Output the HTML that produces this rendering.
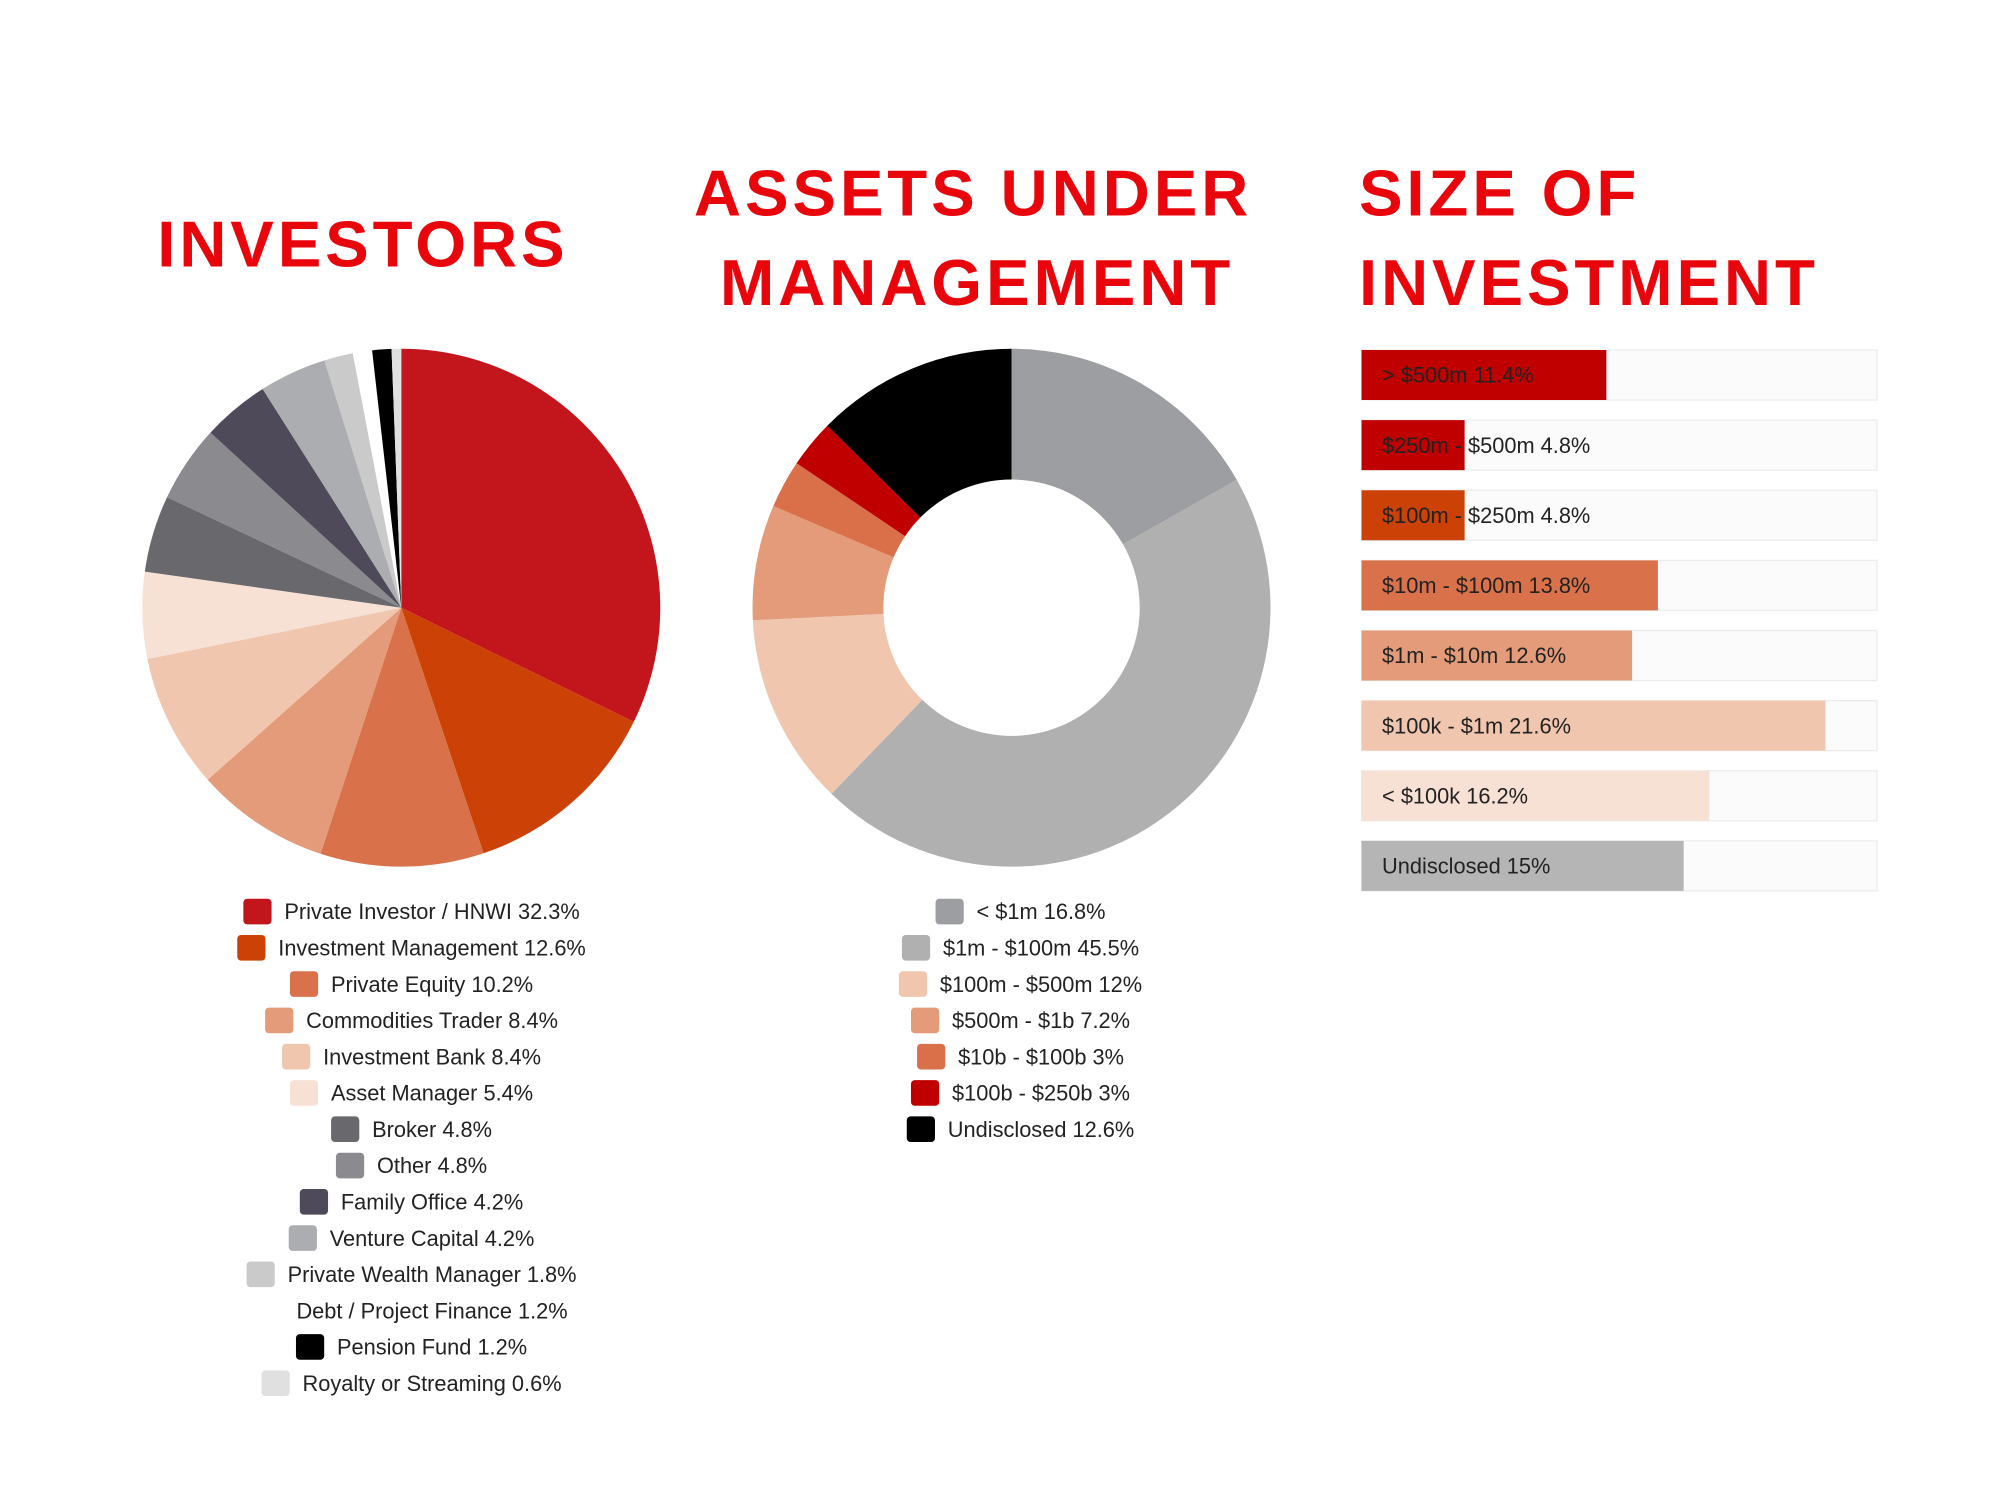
<!DOCTYPE html>
<html><head><meta charset="utf-8"><style>
html,body{margin:0;padding:0;background:#fff}
svg{display:block}
text{font-family:"Liberation Sans",sans-serif}
.t{fill:#e8060c;font-weight:bold;font-size:51px;letter-spacing:3px}
.lg{font-size:17px;fill:#222}
</style></head><body>
<svg id="chart" width="2000" height="1500" viewBox="0 0 1560 1170" preserveAspectRatio="none" xmlns="http://www.w3.org/2000/svg">
<rect width="1560" height="1170" fill="#fff"/>
<text class="t" x="283" y="208" text-anchor="middle">INVESTORS</text>
<text class="t" x="759" y="168" text-anchor="middle">ASSETS UNDER</text>
<text class="t" x="762" y="238" text-anchor="middle">MANAGEMENT</text>
<text class="t" x="1060" y="168">SIZE OF</text>
<text class="t" x="1060" y="238">INVESTMENT</text>
<g id="pie1"></g>
<g id="pie2"></g>
<g id="leg1"></g>
<g id="leg2"></g>
<g id="bars"></g>
</svg>
<script>
const invLabels=["Private Investor / HNWI","Investment Management","Private Equity","Commodities Trader","Investment Bank","Asset Manager","Broker","Other","Family Office","Venture Capital","Private Wealth Manager","Debt / Project Finance","Pension Fund","Royalty or Streaming"];
const invValues=[32.3,12.6,10.2,8.4,8.4,5.4,4.8,4.8,4.2,4.2,1.8,1.2,1.2,0.6];
const invColors=["#c3161c","#cc4105","#d9714a","#e39b79","#f0c6ae","#f7e1d4","#68686d","#8b8b8f","#4f4a5a","#acadb0","#cacaca","#ffffff","#000000","#e0e0e0"];
const aumLabels=["< $1m","$1m - $100m","$100m - $500m","$500m - $1b","$10b - $100b","$100b - $250b","Undisclosed"];
const aumValues=[16.8,45.5,12,7.2,3,3,12.6];
const aumColors=["#9d9ea2","#b0b0b0","#f0c6ae","#e39b79","#d9704a","#c00000","#000000"];
const sizeLabels=["> $500m","$250m - $500m","$100m - $250m","$10m - $100m","$1m - $10m","$100k - $1m","< $100k","Undisclosed"];
const sizeValues=[11.4,4.8,4.8,13.8,12.6,21.6,16.2,15];
const sizeColors=["#c00000","#c00000","#cc4105","#d9714a","#e39b79","#f0c6ae","#f7e1d4","#b5b5b5"];
const NS="http://www.w3.org/2000/svg";
function mk(tag,attrs,parent){const e=document.createElementNS(NS,tag);for(const k in attrs)e.setAttribute(k,attrs[k]);parent.appendChild(e);return e;}
function pt(cx,cy,r,a){return [cx+r*Math.sin(a),cy-r*Math.cos(a)];}
function drawPie(g,vals,cols,labels,cx,cy,R,r0,prefix){
  const tot=vals.reduce((a,b)=>a+b,0);let a=0;
  vals.forEach((v,i)=>{
    const a1=a+v/tot*2*Math.PI;const large=(a1-a)>Math.PI?1:0;
    const p0=pt(cx,cy,R,a),p1=pt(cx,cy,R,a1);let d;
    if(r0>0){const q0=pt(cx,cy,r0,a1),q1=pt(cx,cy,r0,a);
      d=`M${p0[0]},${p0[1]}A${R},${R} 0 ${large} 1 ${p1[0]},${p1[1]}L${q0[0]},${q0[1]}A${r0},${r0} 0 ${large} 0 ${q1[0]},${q1[1]}Z`;}
    else d=`M${cx},${cy}L${p0[0]},${p0[1]}A${R},${R} 0 ${large} 1 ${p1[0]},${p1[1]}Z`;
    const p=mk("path",{d:d,fill:cols[i]},g);
    
    
    a=a1;});
}
function drawLegend(g,vals,cols,labels,cx,y0,dy,prefix){
  labels.forEach((l,i)=>{
    const y=y0+i*dy;
    const t=mk("text",{x:cx,y:y+6,"text-anchor":"middle",class:"lg"},g);
    t.textContent=l+" "+vals[i]+"%";
    
    
    const w=t.getComputedTextLength();
    const s=mk("rect",{x:cx-w/2-32,y:y-10,width:22,height:20,rx:3,fill:cols[i]},g);
    
    
  });
}
drawPie(document.getElementById("pie1"),invValues,invColors,invLabels,313,474,202,0,"investors");
drawPie(document.getElementById("pie2"),aumValues,aumColors,aumLabels,789,474,202,100,"aum");
drawLegend(document.getElementById("leg1"),invValues,invColors,invLabels,337,711,28.3,"investors");
drawLegend(document.getElementById("leg2"),aumValues,aumColors,aumLabels,812,711,28.3,"aum");
const bg=document.getElementById("bars");
const x0=1062,trackW=402,maxV=24,rowY0=273,rowDy=54.7,rowH=39;
const xs=v=>v/maxV*trackW;
sizeLabels.forEach((l,i)=>{
  const y=rowY0+i*rowDy;
  const tr=mk("rect",{x:x0,y:y,width:trackW,height:rowH,fill:"#fbfbfb",stroke:"#ececec","stroke-width":1},bg);
  
  
  const b=mk("rect",{x:x0,y:y,width:xs(sizeValues[i]),height:rowH,fill:sizeColors[i]},bg);
  
  
  const t=mk("text",{x:x0+16,y:y+rowH/2+6,class:"lg"},bg);
  t.textContent=l+" "+sizeValues[i]+"%";
  
  
});
</script>
</body></html>
